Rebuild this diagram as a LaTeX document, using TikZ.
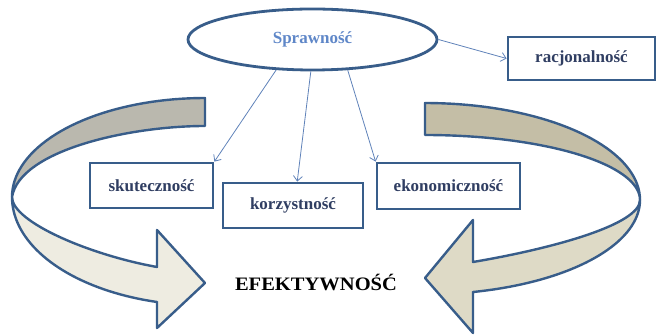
\documentclass[tikz,border=0pt]{standalone}
\usepackage{fontspec}
\setmainfont{Liberation Serif}
\usepackage{graphicx}
\usetikzlibrary{arrows.meta,shapes.geometric}
\definecolor{edgec}{RGB}{56,93,138}
\definecolor{boxtext}{RGB}{48,62,98}
\definecolor{sprc}{RGB}{95,135,200}
\definecolor{connc}{RGB}{95,130,185}
\definecolor{lgray}{RGB}{186,184,174}
\definecolor{llight}{RGB}{238,236,225}
\definecolor{rgray}{RGB}{196,190,166}
\definecolor{rlight}{RGB}{222,218,198}
\tikzset{
  bigarrow/.style={draw=edgec, line width=2.4pt, line join=round},
  box/.style={draw=edgec, line width=2.8pt, fill=white, inner sep=0pt,
    text=boxtext, font=\bfseries\fontsize{17}{20}\selectfont},
  conn/.style={draw=connc, line width=0.8pt, -{Straight Barb[length=5pt,width=9pt]}},
}
\begin{document}
\begin{tikzpicture}[x=1pt,y=-1pt]
\useasboundingbox (0,0) rectangle (657,336);
% left curved arrow
\filldraw[bigarrow, fill=llight] (12,197) .. controls (12,222) and (90,255) .. (157,267)
  -- (157,230) -- (205,283) -- (157,328) -- (157,302)
  -- plot[domain=104.4:180,samples=40,variable=\t] ({205+193*cos(\t)},{197+108.4*sin(\t)}) -- cycle;
\filldraw[bigarrow, fill=lgray]
  plot[domain=270:180,samples=40,variable=\t] ({205+193*cos(\t)},{197+99*sin(\t)})
  .. controls (20,150) and (130,126) .. (205,126) -- cycle;
% right curved arrow
\filldraw[bigarrow, fill=rlight] (640,200) .. controls (640,225) and (550,249) .. (473,262)
  -- (473,220) -- (425,278) -- (473,333) -- (473,292)
  -- plot[domain=77.1:0,samples=40,variable=\t] ({425+215*cos(\t)},{200+94.4*sin(\t)}) -- cycle;
\filldraw[bigarrow, fill=rgray]
  plot[domain=270:360,samples=40,variable=\t] ({425+215*cos(\t)},{200+97*sin(\t)})
  -- plot[domain=360:270,samples=40,variable=\t] ({425+215*cos(\t)},{200+65*sin(\t)}) -- cycle;
% nodes
\node[ellipse, draw=edgec, line width=2.8pt, fill=white, minimum width=249pt, minimum height=61pt,
  inner sep=0pt, text=sprc, font=\bfseries\fontsize{17}{20}\selectfont] (spr) at (312.5,39.5) {Sprawność};
\node[box, minimum width=147pt, minimum height=43pt] (racj) at (581.5,58.5) {racjonalność};
\node[box, minimum width=123pt, minimum height=45pt] (skut) at (151.5,185.5) {skuteczność};
\node[box, minimum width=140pt, minimum height=45pt] (korz) at (293,205.5) {korzystność};
\node[box, minimum width=143pt, minimum height=46pt] (ekon) at (448.5,186) {ekonomiczność};
\node[anchor=base, inner sep=0pt, font=\bfseries\fontsize{19}{22}\selectfont] (efek) at (316,291)
  {\scalebox{1.08}[1]{EFEKTYWNOŚĆ}};
% connectors
\draw[conn] (spr.220) -- (skut.north east);
\draw[conn] (spr.267) -- (korz.80);
\draw[conn] (spr.319) -- (ekon.north west);
\draw[conn] (spr.east) -- (racj.west);
\end{tikzpicture}
\end{document}
